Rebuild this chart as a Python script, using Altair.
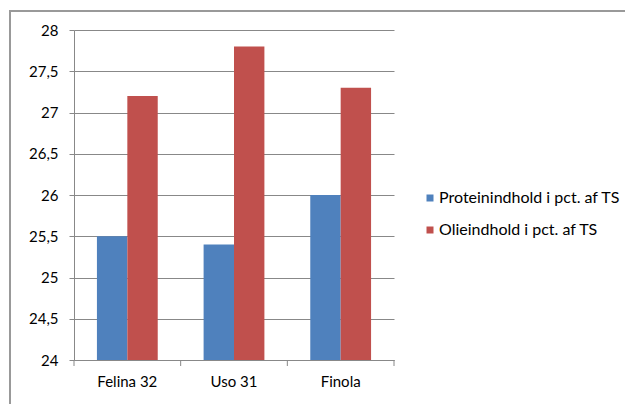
import altair as alt
import pandas as pd

categories = ["Felina 32", "Uso 31", "Finola"]
series = ["Proteinindhold i pct. af TS", "Olieindhold i pct. af TS"]
protein = [25.5, 25.4, 26.0]
oil = [27.2, 27.8, 27.3]
y_ticks = [24, 24.5, 25, 25.5, 26, 26.5, 27, 27.5, 28]
x_tick_edges = [0, 1, 2, 3]

rows = []
for c, p, o in zip(categories, protein, oil):
    rows.append({"Sort": c, "Serie": series[0], "Værdi": p})
    rows.append({"Sort": c, "Serie": series[1], "Værdi": o})
df = pd.DataFrame(rows)
edges = pd.DataFrame({"kant": x_tick_edges})

FONT = "Lato"
W, H = 320, 330

bars = alt.Chart(df).mark_bar().encode(
    x=alt.X("Sort:N", sort=categories, title=None,
            scale=alt.Scale(paddingInner=0.43, paddingOuter=0.215),
            axis=alt.Axis(labelAngle=0, labelFontSize=15, labelFont=FONT,
                          labelColor="#000", labelPadding=14, ticks=False,
                          domainColor="#888", grid=False)),
    xOffset=alt.XOffset("Serie:N", sort=series),
    y=alt.Y("Værdi:Q", title=None,
            scale=alt.Scale(domain=[24, 28], nice=False, zero=False),
            axis=alt.Axis(values=y_ticks,
                          labelExpr="replace(toString(datum.value), '.', ',')",
                          labelFontSize=15, labelFont=FONT, labelColor="#000",
                          labelPadding=11, tickSize=5, domainColor="#888",
                          tickColor="#888", gridColor="#888", grid=True)),
    y2=alt.Y2(datum=24),
    color=alt.Color("Serie:N", sort=series,
                    scale=alt.Scale(domain=series, range=["#4F81BD", "#C0504D"]),
                    legend=alt.Legend(title=None, orient="none", legendX=348,
                                      legendY=160, padding=0, symbolType="square",
                                      symbolSize=49, labelFontSize=16,
                                      labelFont=FONT, labelColor="#000",
                                      labelOffset=1, labelLimit=400,
                                      rowPadding=16, symbolStrokeWidth=0)),
)

xticks = alt.Chart(edges).mark_rule(color="#888", strokeWidth=1).encode(
    x=alt.X("kant:Q", scale=alt.Scale(domain=[0, 3], nice=False, zero=False), axis=None),
    y=alt.value(H), y2=alt.value(H + 6),
)

frame = alt.Chart(df).mark_rect(filled=False, stroke="#999", strokeWidth=1.5).encode(
    x=alt.value(-64), x2=alt.value(700), y=alt.value(-19), y2=alt.value(500)
)

chart = alt.layer(frame, bars, xticks).resolve_scale(x="independent").properties(
    width=W, height=H,
    autosize=alt.AutoSizeParams(type="none"),
    padding={"left": 66, "top": 22, "right": 231, "bottom": 44},
).configure_view(stroke=None).configure_axis(domainWidth=1, gridWidth=1)

chart.save("out.html", embed_options={"renderer": "svg", "actions": False})
